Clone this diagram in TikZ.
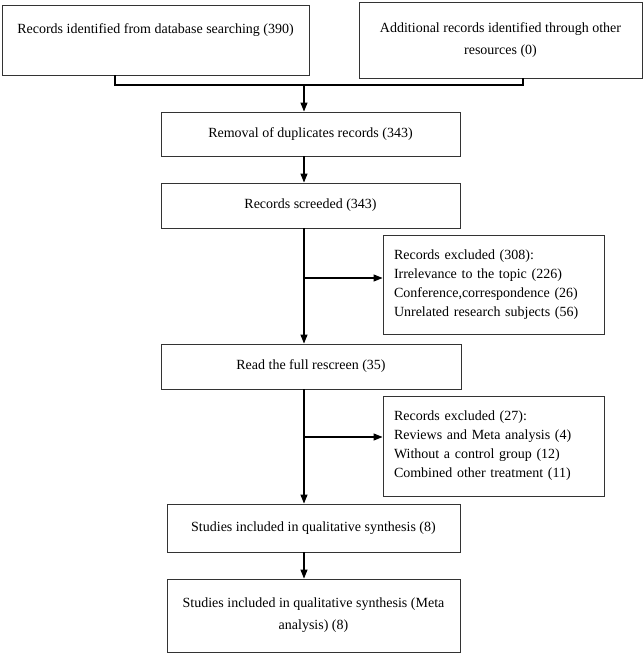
\documentclass[tikz,border=0pt]{standalone}
\usepackage{fontspec}
\setmainfont{Liberation Serif}
\usetikzlibrary{arrows.meta}
\begin{document}
\begin{tikzpicture}[x=1pt,y=-1pt,
  box/.style={draw=black!80, line width=0.9pt, inner sep=0pt, align=center,
    font=\fontsize{14}{22}\selectfont},
  exbox/.style={draw=black!80, line width=0.9pt, inner xsep=11pt, inner ysep=0pt,
    text width=199pt, align=left, minimum width=221pt,
    font=\fontsize{14}{19}\selectfont},
  conn/.style={line width=1.1pt, draw=black},
  arr/.style={conn, -{Triangle[width=7pt,length=9pt]}}]
\useasboundingbox (0,0) rectangle (644,654);

\node[box, minimum width=307pt, minimum height=70pt] (db) at (155.5,40)
  {Records identified from database searching (390)\\ \mbox{}};
\node[box, minimum width=283pt, minimum height=76pt] (other) at (500.5,40)
  {Additional records identified through other\\ resources (0)};
\node[box, minimum width=299pt, minimum height=44pt] (rem) at (310.5,134)
  {Removal of duplicates records (343)};
\node[box, minimum width=299pt, minimum height=45pt] (scr) at (310.5,205.5)
  {Records screeded (343)};
\node[exbox, minimum height=99pt] (exc1) at (493.5,284.5)
  {Records excluded (308):\\ Irrelevance to the topic (226)\\ Conference,correspondence (26)\\ Unrelated research subjects (56)};
\node[box, minimum width=300pt, minimum height=45pt] (read) at (311,366.5)
  {Read the full rescreen (35)};
\node[exbox, minimum height=100pt] (exc2) at (493.5,446)
  {Records excluded (27):\\ Reviews and Meta analysis (4)\\ Without a control group (12)\\ Combined other treatment (11)};
\node[box, minimum width=293pt, minimum height=48pt] (inc1) at (313.5,528)
  {Studies included in qualitative synthesis (8)};
\node[box, minimum width=293pt, minimum height=73pt] (inc2) at (313.5,615.5)
  {Studies included in qualitative synthesis (Meta\\ analysis) (8)};

\coordinate (jl) at (115,85);
\coordinate (jr) at (523,85);
\coordinate (jm) at (304,85);
\coordinate (b1) at (304,278);
\coordinate (b2) at (304,437);

\draw[conn] (db.south -| jl) -- (jl) -- (jr) -- (other.south -| jr);
\draw[arr] (jm) -- (rem.north -| jm);
\draw[arr] (rem.south -| jm) -- (scr.north -| jm);
\draw[arr] (scr.south -| jm) -- (read.north -| jm);
\draw[arr] (b1) -- (exc1.west |- b1);
\draw[arr] (read.south -| jm) -- (inc1.north -| jm);
\draw[arr] (b2) -- (exc2.west |- b2);
\draw[arr] (inc1.south -| jm) -- (inc2.north -| jm);
\end{tikzpicture}
\end{document}
